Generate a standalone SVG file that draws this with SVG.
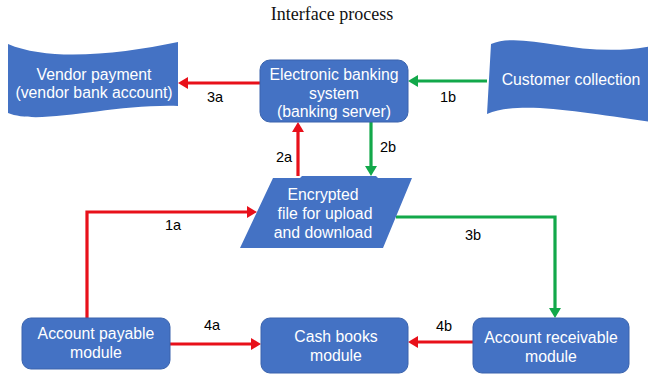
<svg xmlns="http://www.w3.org/2000/svg" width="648" height="375" viewBox="0 0 648 375">
  <style>
    .shape { fill: #4472c4; }
    .box { fill: #4472c4; stroke: #3a63ad; stroke-width: 1; }
    .lbl { font-family: "Liberation Sans", Arial, sans-serif; font-size: 15.8px; fill: #ffffff; text-anchor: middle; }
    .num { font-family: "Liberation Sans", Arial, sans-serif; font-size: 14.5px; fill: #000000; text-anchor: middle; }
    .title { font-family: "Liberation Serif", "Times New Roman", serif; font-size: 18px; fill: #111111; text-anchor: middle; }
    .red { fill: none; stroke: #e8101a; stroke-width: 3.2; marker-end: url(#headRed); }
    .green { fill: none; stroke: #12a84a; stroke-width: 3.2; marker-end: url(#headGreen); }
  </style>
  <defs>
    <marker id="headRed" viewBox="0 0 10 12" markerWidth="10" markerHeight="12" refX="3" refY="6" orient="auto" markerUnits="userSpaceOnUse">
      <path d="M0,0 L10,6 L0,12 z" fill="#e8101a"/>
    </marker>
    <marker id="headGreen" viewBox="0 0 10 12" markerWidth="10" markerHeight="12" refX="3" refY="6" orient="auto" markerUnits="userSpaceOnUse">
      <path d="M0,0 L10,6 L0,12 z" fill="#12a84a"/>
    </marker>
  </defs>

  <rect width="648" height="375" fill="#ffffff"/>

  <text class="title" x="332" y="20">Interface process</text>

  <!-- connectors -->
  <g id="connectors">
    <path class="red" d="M260,83 H185"/>
    <path class="green" d="M487,81 H415"/>
    <path class="red" d="M298,176 V129"/>
    <path class="green" d="M371,122 V169"/>
    <path class="red" d="M87,318 V212 H250"/>
    <path class="green" d="M396,217 H555 V311"/>
    <path class="red" d="M170,344 H254"/>
    <path class="red" d="M473,342 H415"/>
    <text class="num" x="215" y="102">3a</text>
    <text class="num" x="448" y="102">1b</text>
    <text class="num" x="284" y="162">2a</text>
    <text class="num" x="388" y="152">2b</text>
    <text class="num" x="173" y="230">1a</text>
    <text class="num" x="473" y="240">3b</text>
    <text class="num" x="212" y="330">4a</text>
    <text class="num" x="444" y="331">4b</text>
  </g>

  <!-- wave: vendor payment -->
  <g id="vendor">
    <path class="shape" d="M8,44 C50,62 120,54 178,42 L178,106 C110,104 40,126 8,113 Z"/>
    <text class="lbl" x="94" y="80">Vendor payment</text>
    <text class="lbl" x="94" y="98">(vendor bank account)</text>
  </g>

  <!-- wave: customer collection -->
  <g id="customer">
    <path class="shape" d="M491,44 C525,30 580,60 652,46 L652,122 C580,112 520,100 487,114 Z"/>
    <text class="lbl" x="571" y="85">Customer collection</text>
  </g>

  <g id="banking">
    <rect class="box" x="260" y="60" width="148" height="62" rx="10"/>
    <text class="lbl" x="334" y="80">Electronic banking</text>
    <text class="lbl" x="334" y="98.5">system</text>
    <text class="lbl" x="334" y="117">(banking server)</text>
  </g>

  <g id="encrypted">
    <path class="shape" d="M273,178 L300,178 L302,176 L376,176 L378,178 L412,178 L383,248 L240,248 Z"/>
    <text class="lbl" x="323" y="200">Encrypted</text>
    <text class="lbl" x="325" y="219">file for upload</text>
    <text class="lbl" x="323" y="238">and download</text>
  </g>

  <g id="payable">
    <rect class="box" x="22" y="318" width="148" height="51" rx="9"/>
    <text class="lbl" x="96" y="339">Account payable</text>
    <text class="lbl" x="96" y="358">module</text>
  </g>

  <g id="cashbooks">
    <rect class="box" x="261" y="318" width="147" height="55" rx="9"/>
    <text class="lbl" x="336" y="342">Cash books</text>
    <text class="lbl" x="336" y="361">module</text>
  </g>

  <g id="receivable">
    <rect class="box" x="473" y="318" width="156" height="55" rx="9"/>
    <text class="lbl" x="551" y="343">Account receivable</text>
    <text class="lbl" x="551" y="362">module</text>
  </g>
</svg>
